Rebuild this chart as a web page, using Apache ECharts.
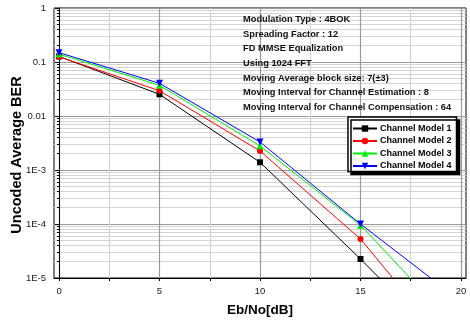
<!DOCTYPE html>
<html lang="en">
<head>
    <meta charset="UTF-8">
    <title>Uncoded Average BER</title>
    <script src="https://cdn.jsdelivr.net/npm/echarts@6/dist/echarts.min.js"></script>
    <style>
        html, body { margin: 0; padding: 0; background: #fff; }
        #chart { width: 470px; height: 323px; }
    </style>
</head>
<body>
    <div id="chart"></div>

    <script>
        // Eb/No points (dB)
        const ebno = [0, 5, 10, 15, 20];

        // BER per channel model
        const channelModel1 = [0.127, 0.0252, 1.39e-3, 2.25e-5, 3e-7];
        const channelModel2 = [0.125, 0.0294, 2.25e-3, 5.27e-5, 3e-7];
        const channelModel3 = [0.140, 0.0370, 2.8e-3, 9.5e-5, 1.0e-6];
        const channelModel4 = [0.149, 0.0403, 3.3e-3, 1.0e-4, 3.7e-6];

        const seriesNames = ['Channel Model 1', 'Channel Model 2', 'Channel Model 3', 'Channel Model 4'];

        // axis tick labels
        const xTickLabels = [0, 5, 10, 15, 20];
        const xTicks = [0, 2.5, 5, 7.5, 10, 12.5, 15, 17.5, 20];

        const notes = [
            'Modulation Type : 4BOK',
            'Spreading Factor : 12',
            'FD MMSE Equalization',
            'Using 1024 FFT',
            'Moving Average block size: 7(\u00B13)',
            'Moving Interval for Channel Estimation : 8',
            'Moving Interval for Channel Compensation : 64'
        ];

        const pair = vals => ebno.map((x, i) => [x, vals[i]]);

        const chart = echarts.init(document.getElementById('chart'));

        const font = 'Arial, "Liberation Sans", sans-serif';

        function line(name, vals, color, symbol, size, rotate) {
            return {
                name: name,
                type: 'line',
                data: pair(vals),
                clip: true,
                symbol: symbol,
                symbolSize: size,
                symbolRotate: rotate || 0,
                showAllSymbol: true,
                lineStyle: { color: color, width: 1 },
                itemStyle: { color: color },
                z: 5
            };
        }

        const options = {
            animation: false,
            title: {
                text: notes.join('\n'),
                left: 238,
                top: 7,
                textStyle: {
                    fontFamily: font,
                    fontSize: 9.3,
                    fontWeight: 'bold',
                    color: '#111',
                    lineHeight: 14.7
                }
            },
            grid: {
                left: 54, top: 8, right: 4, bottom: 45,
                outerBoundsMode: 'none',
                containLabel: false,
                show: true, borderColor: '#000', borderWidth: 1
            },
            legend: {
                orient: 'vertical',
                left: 348, top: 117,
                padding: [7, 5, 1, 4],
                itemWidth: 24, itemHeight: 8, itemGap: 3.5,
                backgroundColor: '#fff',
                borderColor: '#000', borderWidth: 1.5,
                shadowColor: '#000', shadowBlur: 0,
                shadowOffsetX: 3, shadowOffsetY: 3,
                textStyle: { fontFamily: font, fontSize: 9, fontWeight: 'bold', color: '#000', padding: [0, 0, 0, -2] },
                data: seriesNames
            },
            xAxis: {
                type: 'value',
                min: -0.25, max: 20.25,
                name: 'Eb/No[dB]',
                nameLocation: 'middle',
                nameGap: 25,
                nameMoveOverlap: false,
                nameTextStyle: { fontFamily: font, fontSize: 13.5, fontWeight: 'bold', color: '#000' },
                axisLine: { lineStyle: { color: '#000', width: 1 } },
                axisTick: { customValues: xTicks, length: 3, lineStyle: { color: '#000' } },
                axisLabel: { customValues: xTickLabels, margin: 8, fontFamily: font, fontSize: 9.5, color: '#222' },
                splitLine: { show: true, lineStyle: { color: ['#9a9a9a', '#d4d4d4'], width: 1.2 } }
            },
            yAxis: {
                type: 'log',
                logBase: 10,
                min: 1e-5, max: 1,
                name: 'Uncoded Average BER',
                nameLocation: 'middle',
                nameGap: 30,
                nameMoveOverlap: false,
                nameTextStyle: {
                    fontFamily: font, fontSize: 14.5, fontWeight: 'bold', color: '#000',
                    padding: [0, 24, 0, 0]
                },
                axisLine: { show: true, lineStyle: { color: '#000', width: 1 } },
                axisTick: { show: true, length: 4, lineStyle: { color: '#000' } },
                minorTick: { show: true, splitNumber: 9, length: 2, lineStyle: { color: '#000' } },
                axisLabel: {
                    margin: 8, fontFamily: font, fontSize: 9.5, color: '#222',
                    formatter: v => {
                        if (v >= 0.01) return String(+v.toPrecision(1));
                        return '1E' + Math.round(Math.log10(v));
                    }
                },
                splitLine: { show: true, lineStyle: { color: '#9a9a9a', width: 1.2 } },
                minorSplitLine: { show: true, lineStyle: { color: '#d4d4d4', width: 1 } }
            },
            series: [
                line(seriesNames[0], channelModel1, '#000000', 'rect', 6),
                line(seriesNames[1], channelModel2, '#ff0000', 'circle', 6),
                line(seriesNames[2], channelModel3, '#00ee00', 'triangle', 7),
                line(seriesNames[3], channelModel4, '#0000ff', 'triangle', 7, 180)
            ]
        };

        chart.setOption(options);
    </script>
</body>
</html>
